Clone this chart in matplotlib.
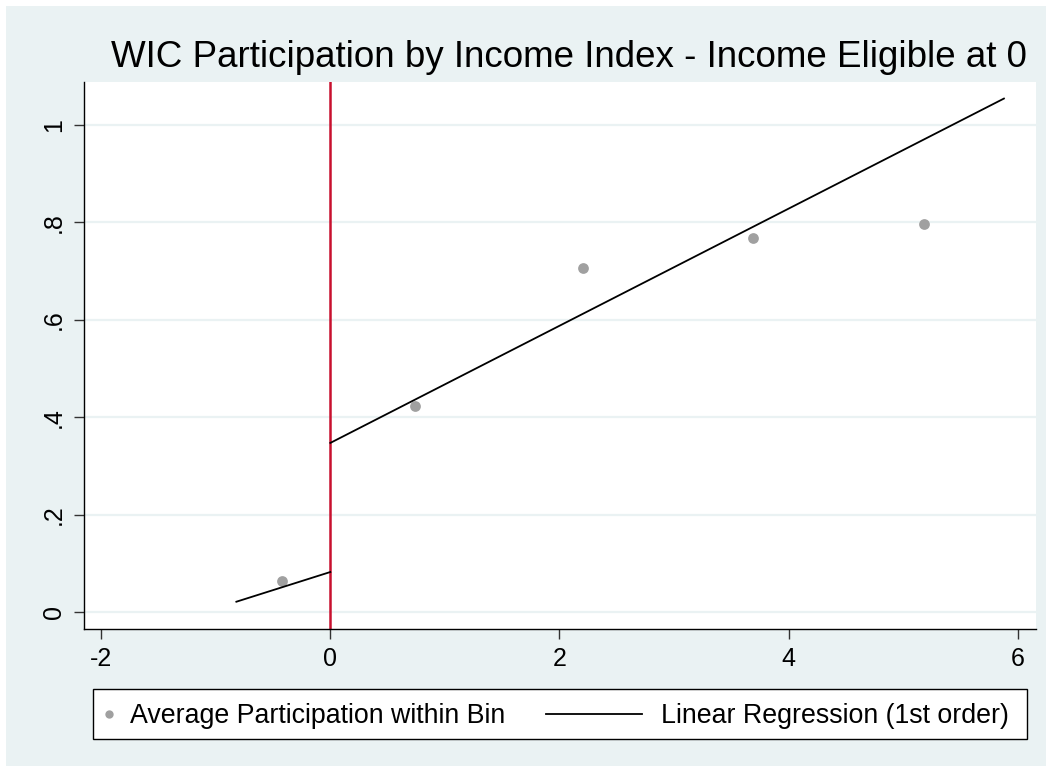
import matplotlib.pyplot as plt
from matplotlib.patches import Rectangle
from matplotlib.lines import Line2D

plt.rcParams['font.family'] = ['Liberation Sans', 'DejaVu Sans']

# binned averages
bin_x = [-0.42, 0.74, 2.21, 3.69, 5.18]
bin_y = [0.063, 0.423, 0.706, 0.767, 0.796]

# fitted lines on each side of the cutoff
left_x = [-0.82, 0.0]
left_y = [0.021, 0.082]
right_x = [0.0, 5.88]
right_y = [0.347, 1.054]

x_ticks = [-2, 0, 2, 4, 6]
y_ticks = [0, 0.2, 0.4, 0.6, 0.8, 1.0]
y_labels = ['0', '.2', '.4', '.6', '.8', '1']

bg = '#eaf2f3'
W, H = 1052, 770


def fx(px):
    return px / W


def fy(py):
    return 1 - py / H


fig = plt.figure(figsize=(W / 100, H / 100), dpi=100)
fig.patch.set_facecolor('white')
fig.add_artist(Rectangle((fx(6), fy(766)), 1040 / W, 760 / H,
                         transform=fig.transFigure, facecolor=bg,
                         edgecolor='none', zorder=-5))

ax = fig.add_axes([fx(84), fy(629), 952 / W, 547 / H])
ax.set_facecolor('white')

ax.set_xlim(-2.15, 6.16)
ax.set_ylim(-0.035, 1.088)

for y in y_ticks:
    ax.axhline(y, color=bg, lw=1.6, zorder=1)

ax.axvline(0, color='#c8102e', lw=1.8, zorder=2)

ax.scatter(bin_x, bin_y, s=60, color='#a0a0a0', zorder=3, linewidths=0)
ax.plot(left_x, left_y, color='black', lw=1.3, zorder=4)
ax.plot(right_x, right_y, color='black', lw=1.3, zorder=4)

ax.set_xticks(x_ticks)
ax.set_xticklabels([str(t) for t in x_ticks])
ax.set_yticks(y_ticks)
ax.set_yticklabels(y_labels, rotation=90, va='center')
ax.tick_params(axis='both', direction='out', length=7, width=1,
               labelsize=18, pad=6, color='#333333')

for s in ['top', 'right']:
    ax.spines[s].set_visible(False)
for s in ['left', 'bottom']:
    ax.spines[s].set_linewidth(1)

fig.text(fx(1027), fy(67),
         'WIC Participation by Income Index - Income Eligible at 0',
         ha='right', va='baseline', fontsize=26.5)

# legend drawn as a box below the plot, Stata style
fig.add_artist(Rectangle((fx(93), fy(739)), (1027 - 93) / W, 50 / H,
                         transform=fig.transFigure, facecolor='white',
                         edgecolor='black', lw=1, zorder=5))
fig.add_artist(Line2D([fx(109)], [fy(714)], marker='o', ms=6,
                      color='#a0a0a0', mec='none', ls='none',
                      transform=fig.transFigure, zorder=6))
fig.text(fx(130), fy(723), 'Average Participation within Bin',
         ha='left', va='baseline', fontsize=19.3, zorder=6)
fig.add_artist(Line2D([fx(546), fx(642)], [fy(714), fy(714)],
                      color='black', lw=1.3,
                      transform=fig.transFigure, zorder=6))
fig.text(fx(661), fy(723), 'Linear Regression (1st order)',
         ha='left', va='baseline', fontsize=19.3, zorder=6)

fig.savefig('out.png', dpi=100, facecolor=fig.get_facecolor())
